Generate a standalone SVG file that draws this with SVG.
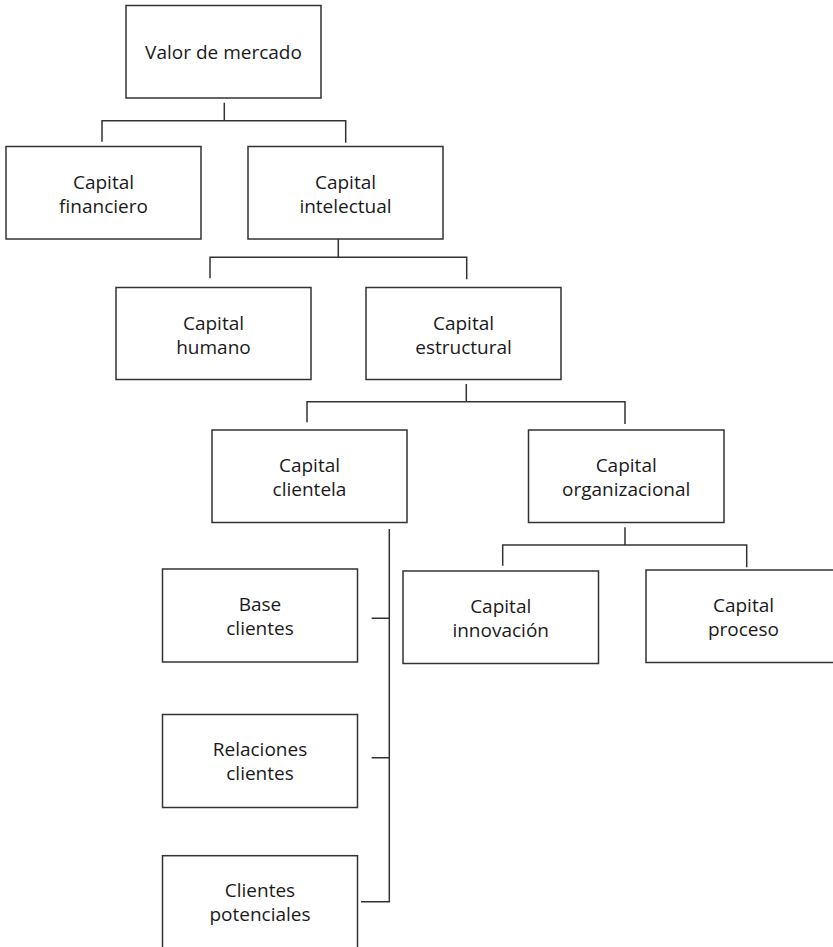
<svg xmlns="http://www.w3.org/2000/svg" width="833" height="947" viewBox="0 0 833 947">
<style>
rect{fill:#fff;stroke:#333;stroke-width:1.5}
text{font-family:"Open Sans","Liberation Sans",Arial,sans-serif;font-size:19px;fill:#1a1a1a;text-anchor:middle}
#connectors path{fill:none;stroke:#333;stroke-width:1.5}
</style>
<rect x="0" y="0" width="833" height="947" style="fill:#fff;stroke:none"/>
<g id="connectors">
<path d="M224.3,102.7 V120.7 M102,141.7 V120.7 H345.7 V142.7"/>
<path d="M338.3,239 V257.3 M210,278.3 V257.3 H466.7 V279.3"/>
<path d="M466.3,384 V401.7 M307,422.3 V401.7 H625 V424"/>
<path d="M625,527.3 V545 M502.7,565.7 V545 H746.7 V567.3"/>
<path d="M389.3,529 V901.7 H361 M371.7,618.3 H389.3 M371.7,757.7 H389.3"/>
</g>
<g id="valor"><rect x="126" y="5.5" width="195" height="92.5"/><text x="223.5" y="59.3">Valor de mercado</text></g>
<g id="financiero"><rect x="6" y="146.5" width="195" height="92.5"/><text x="103.5" y="188.7">Capital</text><text x="103.5" y="212.7">financiero</text></g>
<g id="intelectual"><rect x="248" y="146.5" width="195" height="92.5"/><text x="345.5" y="188.7">Capital</text><text x="345.5" y="212.7">intelectual</text></g>
<g id="humano"><rect x="116" y="287.5" width="195" height="92"/><text x="213.5" y="329.5">Capital</text><text x="213.5" y="353.5">humano</text></g>
<g id="estructural"><rect x="366" y="287.5" width="195" height="92"/><text x="463.5" y="329.5">Capital</text><text x="463.5" y="353.5">estructural</text></g>
<g id="clientela"><rect x="212" y="430" width="195" height="92.5"/><text x="309.5" y="471.8">Capital</text><text x="309.5" y="495.8">clientela</text></g>
<g id="organizacional"><rect x="528.5" y="430" width="195.5" height="92.5"/><text x="626.2" y="471.8">Capital</text><text x="626.2" y="495.8">organizacional</text></g>
<g id="innovacion"><rect x="403" y="571" width="195.5" height="92.5"/><text x="500.7" y="612.8">Capital</text><text x="500.7" y="636.8">innovación</text></g>
<g id="proceso"><rect x="646" y="570" width="195" height="92.5"/><text x="743.5" y="611.8">Capital</text><text x="743.5" y="635.8">proceso</text></g>
<g id="base"><rect x="162.5" y="569" width="195" height="93"/><text x="260" y="610.5">Base</text><text x="260" y="634.5">clientes</text></g>
<g id="relaciones"><rect x="162.5" y="714.5" width="195" height="93"/><text x="260" y="756">Relaciones</text><text x="260" y="780">clientes</text></g>
<g id="potenciales"><rect x="162.5" y="855.7" width="195" height="93"/><text x="260" y="897.2">Clientes</text><text x="260" y="921.2">potenciales</text></g>
</svg>
